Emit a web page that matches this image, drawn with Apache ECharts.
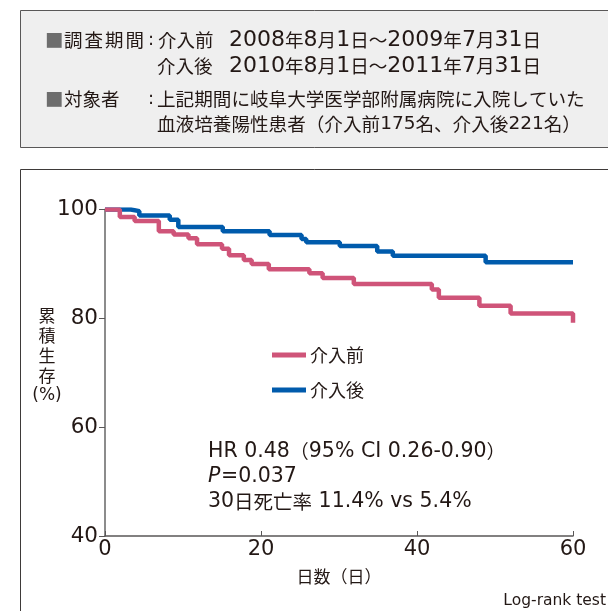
<!DOCTYPE html>
<html><head><meta charset="utf-8">
<script src="https://cdn.jsdelivr.net/npm/echarts@6/dist/echarts.min.js"></script>
<style>html,body{margin:0;padding:0;background:#fff;}#c{width:608px;height:611px;}</style>
</head><body><div id="c"></div>
<script>
// Kaplan-Meier data (day, cumulative survival %)
const seriesNames = ['介入前', '介入後'];
const beforeData = [[0,100],[1.9,98.6],[3.8,97.9],[6.9,96.0],[8.8,95.4],[10.7,94.7],[11.8,93.6],[15.0,92.8],[15.9,91.6],[17.8,90.7],[18.8,90.0],[21.0,89.0],[26.2,88.3],[27.9,87.4],[31.9,86.3],[41.9,85.3],[42.8,83.8],[48.0,82.3],[52.0,80.9],[60,80.9],[60,79.2]];
const afterData = [[0,100],[3.3,99.7],[4.4,98.9],[8.3,98.1],[9.4,96.8],[15.1,96.0],[21.1,95.3],[25.2,94.6],[25.8,94.0],[30.1,93.3],[34.9,92.3],[36.9,91.5],[48.8,90.3],[60,90.3]];
const xTicks = [0, 20, 40, 60];
const yTicks = [40, 60, 80, 100];
const infoLines = ['HR 0.48（95% CI 0.26-0.90）', '=0.037', '30日死亡率 11.4% vs 5.4%'];

const CJKF = '"Noto Sans CJK JP", sans-serif';
const LATF = '"DejaVu Sans", "Noto Sans CJK JP", sans-serif';
const TXT = '#231815';
const PINK = '#cf5479';
const BLUE = '#005bac';

// rich text: Latin runs and CJK runs get their own sizes
function rich(text) {
  const parts = text.match(/[\x20-\x7e]+|[^\x20-\x7e]+/g) || [];
  return parts.map(p => '{' + (/^[\x20-\x7e]+$/.test(p) ? 'a' : 'k') + '|' + p + '}').join('');
}
function rt(x, y, text, latSize, cjkSize) {
  return {type:'text', x:x, y:y, style:{
    text:rich(text), fill:TXT, align:'left', verticalAlign:'middle',
    rich:{
      a:{fontFamily:'DejaVu Sans', fontSize:latSize, fill:TXT, verticalAlign:'middle', lineHeight:22},
      k:{fontFamily:'Noto Sans CJK JP', fontSize:cjkSize, fill:TXT, verticalAlign:'middle', lineHeight:22}
    }}};
}
function tx(x, y, text, font, extra) {
  return {type:'text', x:x, y:y, style:Object.assign({text:text, font:font, fill:TXT, align:'left', verticalAlign:'middle'}, extra||{})};
}

const boxHead1 = ['調','査','期','間'];
const chart = echarts.init(document.getElementById('c'));
const G = [
  {type:'rect', shape:{x:20.5,y:10.5,width:600,height:137}, style:{fill:'#efefef', stroke:'#595757', lineWidth:1}, z:-10},
  {type:'rect', shape:{x:20.5,y:169.5,width:600,height:460}, style:{fill:'none', stroke:'#3e3a39', lineWidth:1}, z:-10},
  tx(45, 40, '■', '18.5px ' + CJKF, {fill:'#6d6d6d'}),
  tx(148, 40, ':', '18px ' + LATF),
  rt(158, 40, '介入前', 20, 18.5),
  rt(229, 40, '2008年8月1日〜2009年7月31日', 22, 18.6),
  rt(157, 66, '介入後', 20, 18.5),
  rt(229, 66, '2010年8月1日〜2011年7月31日', 22, 18.6),
  tx(45, 99, '■', '18.5px ' + CJKF, {fill:'#6d6d6d'}),
  tx(64, 99, '対象者', '18.5px ' + CJKF),
  tx(148, 99, ':', '18px ' + LATF),
  tx(157, 99, '上記期間に岐阜大学医学部附属病院に入院していた', '18.6px ' + CJKF),
  rt(157, 124, '血液培養陽性患者（介入前175名、介入後221名）', 18.5, 18.6),
  // y axis name
  {type:'text', x:47, y:346, style:{text:'累\n積\n生\n存', font:'17px ' + CJKF, fill:TXT, lineHeight:20, align:'center', verticalAlign:'middle'}},
  {type:'text', x:47, y:396, style:{text:'(%)', font:'17px ' + LATF, fill:TXT, align:'center', verticalAlign:'middle'}},
  // legend
  {type:'line', shape:{x1:272,y1:355,x2:306,y2:355}, style:{stroke:PINK, lineWidth:5}},
  tx(310, 355, seriesNames[0], '18px ' + CJKF),
  {type:'line', shape:{x1:272,y1:390,x2:306,y2:390}, style:{stroke:BLUE, lineWidth:5}},
  tx(310, 390, seriesNames[1], '18px ' + CJKF),
  // stats
  rt(208, 452, infoLines[0], 20.5, 19),
  tx(208, 477, 'P', 'italic 20.5px ' + LATF),
  tx(221, 477, infoLines[1], '20.5px ' + LATF),
  rt(208, 502, infoLines[2], 20.5, 19.5),
  // x axis name and note
  {type:'text', x:339, y:577, style:{text:'日数（日）', font:'17px ' + CJKF, fill:TXT, align:'center', verticalAlign:'middle'}},
  {type:'text', x:606, y:601, style:{text:'Log-rank test', font:'15.5px ' + LATF, fill:TXT, align:'right', verticalAlign:'middle'}}
];
boxHead1.forEach((c, i) => G.push(tx(64 + i * 20.5, 40, c, '18.5px ' + CJKF)));

chart.setOption({
  animation:false,
  graphic:G,
  grid:{left:105, right:35, top:209.5, bottom:75, containLabel:false},
  xAxis:{type:'value', min:0, max:60, interval:20,
    axisLine:{lineStyle:{color:'#595757', width:1.5}},
    axisTick:{inside:true, length:5, lineStyle:{color:'#595757'}},
    axisLabel:{fontSize:21, color:TXT, fontFamily:'DejaVu Sans', margin:3, formatter:v=>xTicks.includes(v)?String(v):''},
    splitLine:{show:false}},
  yAxis:{type:'value', min:40, max:100, interval:20,
    axisLine:{show:true, lineStyle:{color:'#8c8c8c', width:2}},
    axisTick:{show:true, length:6, lineStyle:{color:'#595757'}},
    axisLabel:{fontSize:21.5, color:TXT, fontFamily:'DejaVu Sans', margin:7, formatter:v=>yTicks.includes(v)?String(v):''},
    splitLine:{show:false}},
  series:[
    {name:seriesNames[0], type:'line', step:'end', data:beforeData, symbol:'none', lineStyle:{color:PINK, width:4.5}, z:3},
    {name:seriesNames[1], type:'line', step:'end', data:afterData, symbol:'none', lineStyle:{color:BLUE, width:4.5}, z:2}
  ]
});
</script></body></html>
